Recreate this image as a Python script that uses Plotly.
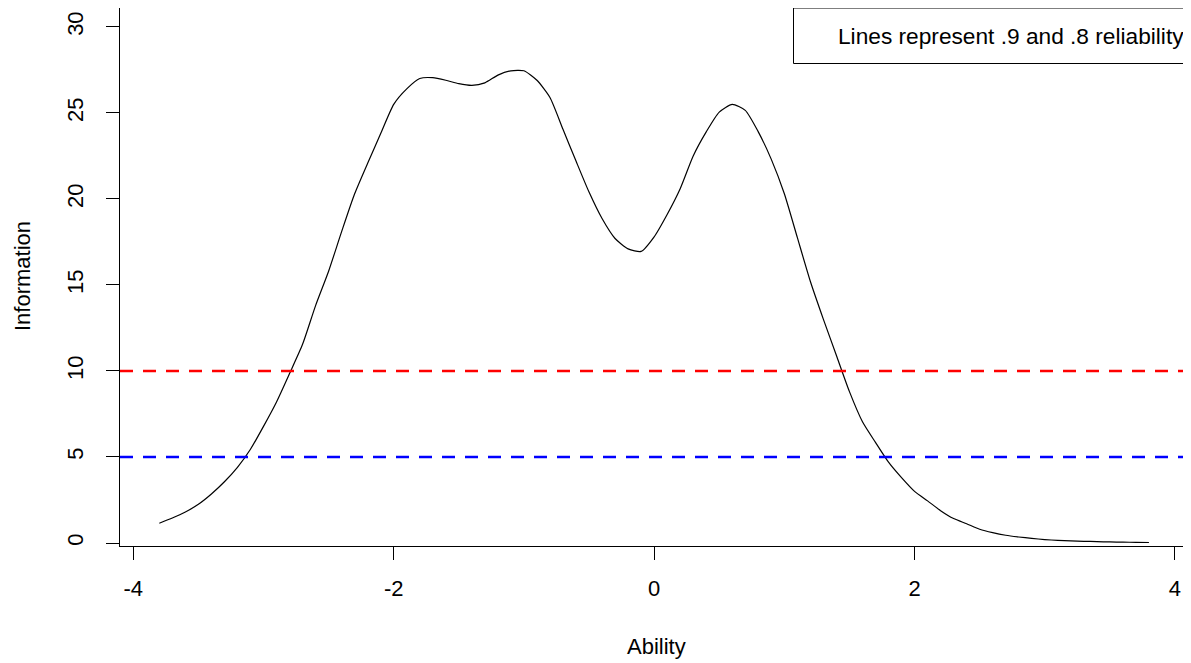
import plotly.graph_objects as go

# Data
ability = [-3.8, -3.7, -3.6, -3.5, -3.4, -3.3, -3.2, -3.1, -3.0, -2.9,
           -2.8, -2.7, -2.6, -2.5, -2.4, -2.3, -2.2, -2.1, -2.0, -1.9,
           -1.8, -1.7, -1.6, -1.5, -1.4, -1.3, -1.2, -1.1, -1.0, -0.9,
           -0.8, -0.7, -0.6, -0.5, -0.4, -0.3, -0.2, -0.1, 0.0, 0.1,
           0.2, 0.3, 0.4, 0.5, 0.6, 0.7, 0.8, 0.9, 1.0, 1.1,
           1.2, 1.3, 1.4, 1.5, 1.6, 1.7, 1.8, 1.9, 2.0, 2.1,
           2.2, 2.3, 2.4, 2.5, 2.6, 2.7, 2.8, 2.9, 3.0, 3.1,
           3.2, 3.3, 3.4, 3.5, 3.6, 3.7, 3.8]
information = [1.15, 1.45, 1.8, 2.25, 2.85, 3.56, 4.4, 5.45, 6.78, 8.2,
               9.85, 11.55, 13.8, 15.8, 18.1, 20.3, 22.08, 23.8, 25.5, 26.4,
               27.0, 27.05, 26.9, 26.7, 26.6, 26.75, 27.2, 27.45, 27.45, 26.9,
               25.9, 24.05, 22.2, 20.4, 18.86, 17.7, 17.1, 16.95, 17.8, 19.1,
               20.6, 22.5, 23.9, 25.05, 25.5, 25.15, 23.9, 22.3, 20.3, 17.75,
               15.2, 13.0, 10.9, 8.8, 7.05, 5.85, 4.7, 3.8, 3.0, 2.45,
               1.88, 1.42, 1.12, 0.8, 0.6, 0.45, 0.35, 0.27, 0.2, 0.15,
               0.12, 0.1, 0.08, 0.06, 0.05, 0.04, 0.03]

x_ticks = [-4, -2, 0, 2, 4]
y_ticks = [0, 5, 10, 15, 20, 25, 30]
reliability_levels = [10, 5]
reliability_colors = ["#FF0000", "#0000FF"]
legend_text = "Lines represent .9 and .8 reliability"
x_title = "Ability"
y_title = "Information"

FONT = "Liberation Sans, Arial, sans-serif"

# the page body adds an 8px offset; positions below are given in page pixels
OFF = 8
W, H = 1191 - OFF, 663 - OFF
ml, mr, mt = 120 - OFF, 0, 0
plot_bottom_page = 546
mb = H - (plot_bottom_page - OFF)
pw = W - ml - mr
ph = H - mt - mb


def px_x(p):
    return (p - OFF - ml) / pw


def px_y(p):
    return (H - mb - (p - OFF)) / ph


fig = go.Figure()
fig.add_trace(go.Scatter(
    x=ability, y=information, mode="lines",
    line=dict(color="black", width=1.2, shape="spline", smoothing=0.6),
    hoverinfo="skip", showlegend=False,
))

for lvl, col in zip(reliability_levels, reliability_colors):
    fig.add_shape(type="line", xref="paper", x0=0, x1=1, yref="y", y0=lvl, y1=lvl,
                  line=dict(color=col, width=2.5, dash="13px,10px"))

fig.add_shape(type="rect", xref="paper", yref="paper",
              x0=px_x(793.5), x1=1.02, y0=px_y(63.5), y1=1.0,
              line=dict(color="black", width=1), fillcolor="white", layer="above")
fig.add_annotation(text=legend_text, xref="paper", yref="paper",
                   x=px_x(836), y=px_y(36), xanchor="left", yanchor="middle",
                   showarrow=False, font=dict(family=FONT, size=22.7, color="black"))

fig.add_annotation(text=x_title, xref="paper", yref="paper",
                   x=px_x(656), y=px_y(647), xanchor="center", yanchor="middle",
                   showarrow=False, font=dict(family=FONT, size=22, color="black"))
fig.add_annotation(text=y_title, xref="paper", yref="paper",
                   x=px_x(22), y=px_y(276), xanchor="center", yanchor="middle", textangle=-90,
                   showarrow=False, font=dict(family=FONT, size=22, color="black"))

fig.update_layout(
    width=W, height=H,
    margin=dict(l=ml, r=mr, t=mt, b=mb, pad=0),
    plot_bgcolor="white", paper_bgcolor="white",
    font=dict(family=FONT, size=22, color="black"),
    showlegend=False,
)
fig.update_xaxes(
    range=[-4.102, 4.123], tickvals=x_ticks, ticktext=[str(v) for v in x_ticks],
    showgrid=False, zeroline=False, showline=True, linecolor="black", linewidth=1,
    mirror=True, ticks="outside", ticklen=13, tickwidth=1, tickcolor="black",
    ticklabelstandoff=10,
)
fig.update_yaxes(
    range=[-0.174, 31.10], tickvals=y_ticks, ticktext=[str(v) for v in y_ticks],
    showgrid=False, zeroline=False, showline=True, linecolor="black", linewidth=1,
    mirror=False, ticks="outside", ticklen=13, tickwidth=1, tickcolor="black",
    tickangle=-90, ticklabelstandoff=14,
)

fig.write_html("out.html")
